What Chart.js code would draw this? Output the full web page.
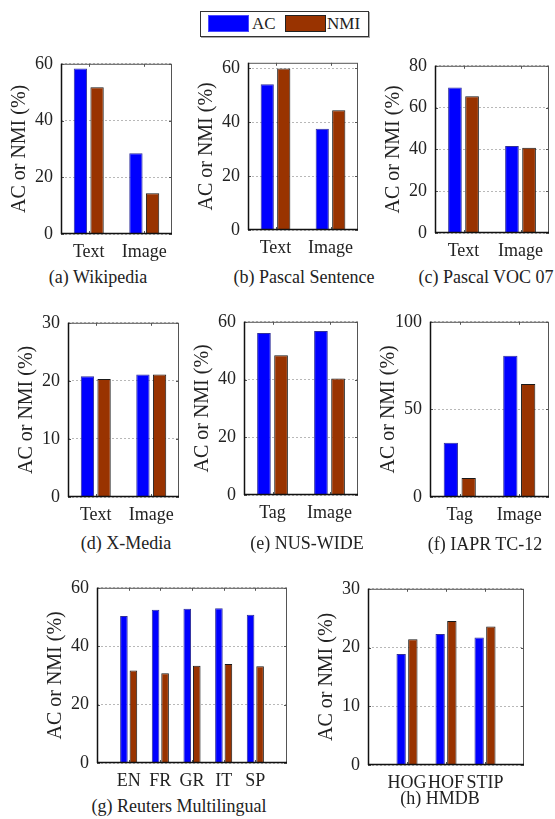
<!DOCTYPE html>
<html>
<head>
<meta charset="utf-8">
<script src="https://cdn.jsdelivr.net/npm/chart.js@4.4.0/dist/chart.umd.min.js"></script>
<style>
  body { margin: 0; width: 555px; height: 819px; overflow: hidden; background: #fff; position: relative; font-family: "Liberation Serif", "Times New Roman", serif; color: #222; }
  canvas { position: absolute; }
  .cap { position: absolute; font-size: 18px; line-height: 20px; white-space: nowrap; transform: translateX(-50%); }
  #legend { position: absolute; left: 200px; top: 11px; width: 167px; height: 24px; border: 1px solid #333; box-shadow: 1px 1px 0 #aaa; background: #fff; font-size: 17px; }
  #legend .sw { position: absolute; top: 3px; width: 39px; height: 15px; border: 1px solid #222; }
  #legend .lb { position: absolute; top: 2px; line-height: 20px; }
</style>
</head>
<body>
<div id="legend">
  <span class="sw" style="left:7px;background:#0000ff;border-color:#4a4aff"></span><span class="lb" style="left:51px">AC</span>
  <span class="sw" style="left:84px;background:#993300"></span><span class="lb" style="left:126px">NMI</span>
</div>
<script>
// categories
const textImage = ['Text', 'Image'];
const tagImage = ['Tag', 'Image'];
const langs = ['EN', 'FR', 'GR', 'IT', 'SP'];
const feats = ['HOG', 'HOF', 'STIP'];

// AC / NMI values (%)
const wikiAC = [58.3, 28.5];
const wikiNMI = [51.7, 14.4];
const pascalAC = [54.0, 37.5];
const pascalNMI = [59.9, 44.4];
const vocAC = [69.6, 41.6];
const vocNMI = [65.4, 40.8];
const xmediaAC = [20.8, 21.1];
const xmediaNMI = [20.3, 21.1];
const nusAC = [56.1, 56.8];
const nusNMI = [48.4, 40.4];
const iaprAC = [30.9, 80.6];
const iaprNMI = [10.9, 64.5];
const reutersAC = [50.3, 52.5, 52.8, 53.0, 50.8];
const reutersNMI = [31.7, 30.7, 33.3, 33.9, 33.1];
const hmdbAC = [18.9, 22.3, 21.7];
const hmdbNMI = [21.4, 24.5, 23.6];

// y axis limits and tick steps
const yMax = [60, 62, 80, 30, 60, 100, 60, 30];
const yStep = [20, 20, 20, 10, 20, 50, 20, 10];

const FONT = '"Liberation Serif", "Times New Roman", serif';
const YW = 58, XH = 30, PT = 14, PR = 8;

const panels = [
  { labels: textImage, ac: wikiAC, nmi: wikiNMI, pad: false, box: [61, 172, 59, 234], cap: '(a) Wikipedia', cx: 98, cy: 267 },
  { labels: textImage, ac: pascalAC, nmi: pascalNMI, pad: false, box: [248, 358, 58, 230], cap: '(b) Pascal Sentence', cx: 304, cy: 267 },
  { labels: textImage, ac: vocAC, nmi: vocNMI, pad: false, box: [435, 549, 61, 233], cap: '(c) Pascal VOC 07', cx: 486, cy: 267 },
  { labels: textImage, ac: xmediaAC, nmi: xmediaNMI, pad: false, box: [68, 179, 318, 497], cap: '(d) X-Media', cx: 126, cy: 533 },
  { labels: tagImage, ac: nusAC, nmi: nusNMI, pad: false, box: [244, 358, 317, 495], cap: '(e) NUS-WIDE', cx: 307, cy: 533 },
  { labels: tagImage, ac: iaprAC, nmi: iaprNMI, pad: false, box: [430, 549, 317, 497], cap: '(f) IAPR TC-12', cx: 485, cy: 534 },
  { labels: langs, ac: reutersAC, nmi: reutersNMI, pad: true, box: [97, 287, 583, 763], cap: '(g) Reuters Multilingual', cx: 179, cy: 796 },
  { labels: feats, ac: hmdbAC, nmi: hmdbNMI, pad: true, box: [368, 524, 584, 765], cap: '(h) HMDB', cx: 440, cy: 788 }
];

// MATLAB style box with inward ticks
const boxPlugin = {
  id: 'box',
  afterDatasetsDraw(chart) {
    const { ctx, chartArea: a, scales: { x, y } } = chart;
    ctx.save();
    ctx.strokeStyle = '#555';
    ctx.lineWidth = 1;
    ctx.strokeRect(a.left + 0.5, a.top + 0.5, a.right - a.left - 1, a.bottom - a.top - 1);
    ctx.beginPath();
    y.ticks.forEach((t, i) => {
      const py = Math.round(y.getPixelForTick(i)) + 0.5;
      ctx.moveTo(a.left, py); ctx.lineTo(a.left + 3, py);
      ctx.moveTo(a.right, py); ctx.lineTo(a.right - 3, py);
    });
    x.ticks.forEach((t, i) => {
      if (!chart.data.labels[i]) return;
      const px = Math.round(x.getPixelForTick(i)) + 0.5;
      ctx.moveTo(px, a.bottom); ctx.lineTo(px, a.bottom - 3);
      ctx.moveTo(px, a.top); ctx.lineTo(px, a.top + 3);
    });
    ctx.stroke();
    ctx.strokeStyle = '#111';
    ctx.lineWidth = 1.5;
    ctx.beginPath();
    ctx.moveTo(a.left, a.bottom - 0.5); ctx.lineTo(a.right, a.bottom - 0.5);
    ctx.moveTo(a.left + 0.5, a.top); ctx.lineTo(a.left + 0.5, a.bottom);
    ctx.stroke();
    ctx.restore();
  }
};

panels.forEach((p, k) => {
  const [L, R, T, B] = p.box;
  const cv = document.createElement('canvas');
  const w = R - L + YW + PR, h = B - T + PT + XH;
  cv.width = w; cv.height = h;
  cv.style.left = (L - YW) + 'px';
  cv.style.top = (T - PT) + 'px';
  cv.style.width = w + 'px'; cv.style.height = h + 'px';
  document.body.appendChild(cv);

  const cap = document.createElement('div');
  cap.className = 'cap';
  cap.textContent = p.cap;
  cap.style.left = p.cx + 'px';
  cap.style.top = p.cy + 'px';
  document.body.appendChild(cap);

  const labels = p.pad ? ['', ...p.labels, ''] : p.labels;
  const ac = p.pad ? [null, ...p.ac, null] : p.ac;
  const nmi = p.pad ? [null, ...p.nmi, null] : p.nmi;

  new Chart(cv, {
    type: 'bar',
    data: {
      labels: labels,
      datasets: [
        { label: 'AC', data: ac, backgroundColor: '#0000ff', borderColor: '#30309a', borderWidth: 1, categoryPercentage: 0.6, barPercentage: 0.8 },
        { label: 'NMI', data: nmi, backgroundColor: '#993300', borderColor: '#1a1a1a', borderWidth: 1, categoryPercentage: 0.6, barPercentage: 0.8 }
      ]
    },
    options: {
      responsive: false,
      animation: false,
      layout: { padding: { top: PT, right: PR, left: 0, bottom: 0 } },
      plugins: { legend: { display: false }, tooltip: { enabled: false } },
      scales: {
        x: {
          offset: !p.pad,
          grid: { display: false, drawTicks: false },
          border: { display: false },
          ticks: { color: '#222', font: { family: FONT, size: 18 }, padding: 7, maxRotation: 0, autoSkip: false },
          afterFit(s) { s.height = XH; }
        },
        y: {
          min: 0, max: yMax[k],
          grid: { color: '#b8b8b8', drawTicks: false, lineWidth: 1 },
          border: { display: false, dash: [2, 2] },
          ticks: { stepSize: yStep[k], includeBounds: false, color: '#222', font: { family: FONT, size: 18 }, padding: 8 },
          afterBuildTicks(s) { s.ticks = s.ticks.filter(t => t.value % yStep[k] === 0); },
          title: { display: true, text: 'AC or NMI (%)', color: '#222', font: { family: FONT, size: 20 }, padding: { top: 5, bottom: 0 } },
          afterFit(s) { s.width = YW; }
        }
      }
    },
    plugins: [boxPlugin]
  });
});
</script>
</body>
</html>
